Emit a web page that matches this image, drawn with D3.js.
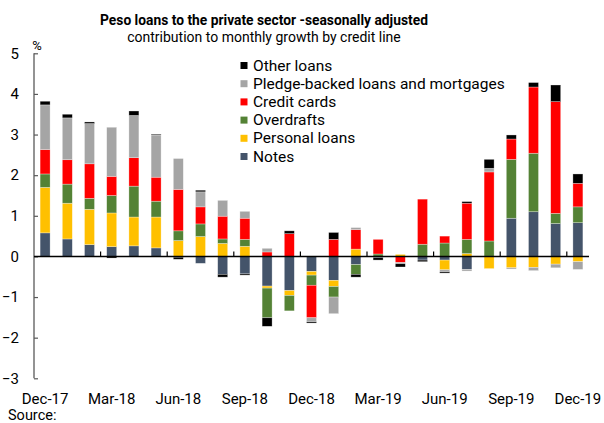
<!DOCTYPE html>
<html>
<head>
<meta charset="utf-8">
<script src="https://cdn.jsdelivr.net/npm/d3@7"></script>
<style>
  html, body { margin: 0; padding: 0; background: #fff; }
  svg { display: block; font-family: Roboto, "Noto Sans", sans-serif; }
</style>
</head>
<body>
<svg id="chart" width="604" height="423"></svg>
<script>
// Monthly categories
const months = ["Dec-17","Jan-18","Feb-18","Mar-18","Apr-18","May-18","Jun-18","Jul-18","Aug-18",
  "Sep-18","Oct-18","Nov-18","Dec-18","Jan-19","Feb-19","Mar-19","Apr-19","May-19","Jun-19",
  "Jul-19","Aug-19","Sep-19","Oct-19","Nov-19","Dec-19"];

// Contribution to monthly growth (percentage points) by credit line
const notes     = [0.58, 0.43, 0.29, 0.24, 0.26, 0.21, -0.02, -0.17, -0.44, -0.43, -0.73, -0.84, -0.37, -0.59, -0.20, -0.03, 0, -0.09, -0.09, -0.32, 0, 0.94, 1.10, 0.81, 0.83];
const personal  = [1.12, 0.88, 0.87, 0.83, 0.71, 0.76, 0.39, 0.49, 0.32, 0.25, -0.05, -0.12, -0.09, -0.15, 0.18, 0, 0.05, 0, -0.24, 0.07, -0.30, -0.28, -0.27, -0.19, -0.13];
const overdraft = [0.33, 0.47, 0.27, 0.43, 0.76, 0.39, 0.24, 0.31, 0.11, 0.17, -0.73, -0.38, -0.25, -0.26, -0.24, 0.06, 0, 0.30, 0.33, 0.35, 0.38, 1.45, 1.44, 0.25, 0.39];
const credit    = [0.60, 0.60, 0.85, 0.47, 0.70, 0.59, 1.02, 0.42, 0.56, 0.52, 0.11, 0.56, -0.80, 0.42, 0.48, 0.36, -0.15, 1.11, 0.17, 0.89, 1.70, 0.50, 1.63, 2.75, 0.58];
const pledge    = [1.10, 1.03, 0.99, 1.21, 1.04, 1.04, 0.76, 0.37, 0.39, 0.17, 0.09, 0, -0.10, -0.41, 0.05, 0, -0.03, 0, -0.05, -0.04, 0.09, -0.03, -0.08, -0.09, -0.19];
const other     = [0.09, 0.09, 0.04, -0.04, 0.11, 0.02, -0.05, 0.04, -0.07, -0.03, -0.21, 0.07, -0.03, 0.17, -0.07, -0.06, -0.08, -0.04, -0.03, 0.04, 0.22, 0.10, 0.11, 0.41, 0.23];

const yTicks = [-3, -2, -1, 0, 1, 2, 3, 4, 5];
const xLabelEvery = 3;

const series = [
  { key: "notes",     name: "Notes",                             values: notes,     color: "#44546A" },
  { key: "personal",  name: "Personal loans",                    values: personal,  color: "#FFC000" },
  { key: "overdraft", name: "Overdrafts",                        values: overdraft, color: "#548235" },
  { key: "credit",    name: "Credit cards",                      values: credit,    color: "#FF0000" },
  { key: "pledge",    name: "Pledge-backed loans and mortgages", values: pledge,    color: "#A5A5A5" },
  { key: "other",     name: "Other loans",                       values: other,     color: "#000000" }
];

const table = months.map((m, i) => {
  const row = { month: m };
  series.forEach(s => { row[s.key] = s.values[i]; });
  return row;
});

const svg = d3.select("#chart");
const plotLeft = 34, plotRight = 589, plotTop = 53.3, plotBottom = 378.3;

const x = d3.scaleBand().domain(months).range([plotLeft, plotRight]).paddingInner(0.55).paddingOuter(0.275);
const y = d3.scaleLinear().domain([-3, 5]).range([plotBottom, plotTop]);

const stack = d3.stack().keys(series.map(s => s.key)).offset(d3.stackOffsetDiverging);
const stacked = stack(table);

// Titles
svg.append("text").attr("x", 264).attr("y", 25).attr("text-anchor", "middle")
  .style("font-size", "13.8px").style("font-weight", "bold").attr("fill", "#000")
  .text("Peso loans to the private sector -seasonally adjusted");
svg.append("text").attr("x", 264).attr("y", 42).attr("text-anchor", "middle")
  .style("font-size", "14px").attr("fill", "#000")
  .text("contribution to monthly growth by credit line");

// Bars
const layer = svg.append("g").selectAll("g").data(stacked).join("g")
  .attr("fill", (d, i) => series[i].color);
layer.selectAll("rect").data(d => d).join("rect")
  .attr("x", d => x(d.data.month))
  .attr("width", x.bandwidth())
  .attr("y", d => y(Math.max(d[0], d[1])))
  .attr("height", d => Math.abs(y(d[0]) - y(d[1])))
  .attr("stroke", "#ffffff").attr("stroke-opacity", 0.5).attr("stroke-width", 0.6);

// Y axis
const yAxis = d3.axisLeft(y).tickValues(yTicks).tickSize(-4).tickPadding(15).tickFormat(d3.format("d"));
const yg = svg.append("g").attr("transform", `translate(${plotLeft},0)`).call(yAxis);
yg.select(".domain").attr("stroke", "#595959").attr("stroke-width", 1.3).attr("d", `M0,${plotTop}V${plotBottom}`);
yg.selectAll(".tick line").attr("stroke", "#595959").attr("stroke-width", 1.2);
yg.selectAll(".tick text").attr("fill", "#000").style("font-size", "15px")
  .style("font-family", "Roboto, sans-serif").attr("text-anchor", "end").attr("x", -15);

svg.append("text").attr("x", 37).attr("y", 50).attr("text-anchor", "middle")
  .style("font-size", "13px").text("%");

// Zero line with category separators every quarter
const zeroG = svg.append("g").attr("transform", `translate(0,${y(0)})`);
zeroG.append("line").attr("x1", plotLeft).attr("x2", plotRight).attr("stroke", "#000").attr("stroke-width", 1.5);
const step = x.step();
const sepMonths = months.filter((m, i) => i > 0 && i % xLabelEvery === 0);
zeroG.selectAll("line.sep").data(sepMonths).join("line").attr("class", "sep")
  .attr("x1", m => x(m) + x.bandwidth() / 2 - step / 2)
  .attr("x2", m => x(m) + x.bandwidth() / 2 - step / 2)
  .attr("y1", 0).attr("y2", -5).attr("stroke", "#000").attr("stroke-width", 1.2);

// X labels at bottom
const labelMonths = months.filter((m, i) => i % xLabelEvery === 0);
svg.append("g").selectAll("text").data(labelMonths).join("text")
  .attr("x", m => x(m) + x.bandwidth() / 2)
  .attr("y", 403.5).attr("text-anchor", "middle")
  .style("font-size", "15px").text(m => m);

svg.append("text").attr("x", 8).attr("y", 420).style("font-size", "14.5px").text("Source:");

// Legend (top-down order: last series first)
const legend = svg.append("g");
const legendItems = series.slice().reverse();
legendItems.forEach((s, i) => {
  const ly = 70.5 + i * 18.2;
  legend.append("rect").attr("x", 240.5).attr("y", ly - 8.5).attr("width", 7).attr("height", 7).attr("fill", s.color);
  legend.append("text").attr("x", 253).attr("y", ly).style("font-size", "15.5px").attr("fill", "#000").text(s.name);
});
</script>
</body>
</html>
